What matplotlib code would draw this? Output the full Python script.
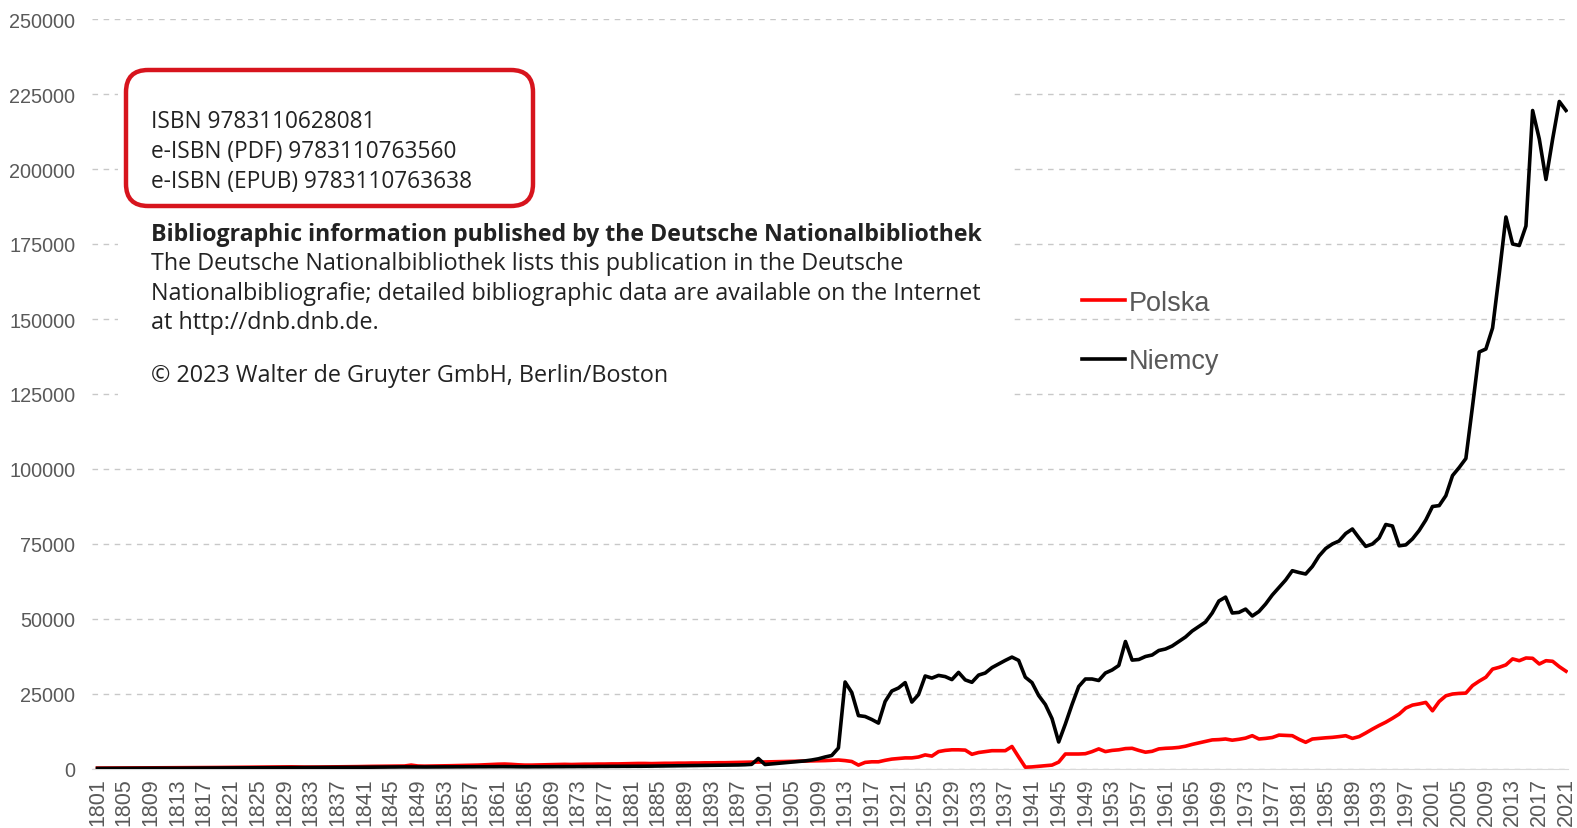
import numpy as np
import matplotlib
matplotlib.use("Agg")
import matplotlib.pyplot as plt
from matplotlib.patches import Rectangle, FancyBboxPatch

# lata 1801-2021
years = list(range(1801, 2022))

niemcy = [
    200, 210, 220, 230, 220, 240, 250, 260, 250, 270,              # 1801
    260, 280, 270, 290, 300, 310, 320, 330, 340, 350,              # 1811
    360, 370, 390, 400, 410, 420, 440, 450, 470, 480,              # 1821
    460, 470, 480, 490, 500, 510, 520, 540, 560, 580,              # 1831
    590, 610, 630, 650, 670, 690, 700, 680, 660, 670,              # 1841
    680, 690, 700, 710, 720, 730, 740, 750, 760, 770,              # 1851
    780, 790, 760, 740, 730, 740, 750, 760, 770, 780,              # 1861
    790, 800, 810, 820, 830, 840, 850, 860, 850, 860,              # 1871
    870, 900, 930, 960, 990, 1010, 1030, 1060, 1090, 1120,         # 1881
    1150, 1180, 1210, 1240, 1270, 1300, 1350, 1420, 1550, 3500,    # 1891
    1500, 1700, 1900, 2100, 2300, 2500, 2700, 3000, 3400, 4000,    # 1901
    4500, 7000, 29000, 25500, 17800, 17500, 16500, 15300, 22500, 26000,   # 1911
    27000, 28800, 22300, 24800, 31000, 30300, 31200, 30800, 29800, 32200,  # 1921
    29700, 28900, 31300, 32000, 33800, 35000, 36200, 37300, 36200, 30600,  # 1931
    28800, 24500, 21500, 16800, 9000, 15000, 21500, 27500, 30000, 30000,   # 1941
    29500, 32000, 33000, 34500, 42500, 36300, 36500, 37500, 38000, 39500,  # 1951
    40000, 41000, 42500, 44000, 46000, 47500, 49000, 52000, 56000, 57300,  # 1961
    52000, 52200, 53300, 51000, 52500, 55000, 58000, 60500, 63000, 66100,  # 1971
    65500, 65000, 67500, 71000, 73500, 75000, 76000, 78500, 80000, 77000,  # 1981
    74200, 75000, 77000, 81500, 81000, 74400, 74700, 76700, 79500, 83000,  # 1991
    87500, 87800, 91100, 97800, 100500, 103500, 121000, 139000, 140000, 147000,  # 2001
    165000, 184000, 175000, 174500, 181000, 219500, 210000, 196500, 210000, 222500,  # 2011
    219500,                                                         # 2021
]

polska = [
    300, 300, 320, 330, 340, 350, 360, 370, 380, 390,              # 1801
    400, 410, 420, 430, 440, 450, 470, 490, 510, 530,              # 1811
    550, 560, 580, 600, 620, 640, 660, 680, 700, 720,              # 1821
    680, 650, 640, 660, 680, 700, 720, 740, 760, 800,              # 1831
    850, 880, 900, 920, 950, 980, 1000, 1300, 1000, 950,           # 1841
    980, 1000, 1050, 1100, 1150, 1200, 1250, 1300, 1400, 1500,     # 1851
    1600, 1650, 1550, 1400, 1300, 1300, 1350, 1400, 1450, 1500,    # 1861
    1550, 1500, 1550, 1600, 1600, 1650, 1650, 1700, 1700, 1750,    # 1871
    1800, 1850, 1850, 1800, 1850, 1900, 1900, 1950, 1950, 2000,    # 1881
    2000, 2050, 2050, 2100, 2100, 2150, 2200, 2250, 2300, 2300,    # 1891
    2350, 2400, 2450, 2500, 2550, 2600, 2650, 2700, 2750, 2800,    # 1901
    2900, 3000, 2800, 2500, 1300, 2200, 2400, 2400, 2900, 3300,    # 1911
    3500, 3700, 3700, 4000, 4700, 4300, 5800, 6200, 6400, 6400,    # 1921
    6300, 4900, 5500, 5800, 6100, 6100, 6100, 7500, 4000, 600,     # 1931
    700, 900, 1100, 1300, 2300, 5000, 5000, 5000, 5100, 5800,      # 1941
    6700, 5800, 6200, 6400, 6800, 6900, 6200, 5600, 5900, 6700,    # 1951
    6900, 7000, 7200, 7600, 8200, 8700, 9200, 9700, 9800, 10000,   # 1961
    9600, 9900, 10300, 11100, 10000, 10200, 10500, 11300, 11200, 11100,    # 1971
    9900, 8900, 10000, 10200, 10400, 10550, 10800, 11100, 10200, 10800,    # 1981
    12000, 13300, 14500, 15600, 16900, 18300, 20300, 21300, 21700, 22200,  # 1991
    19400, 22500, 24400, 25000, 25200, 25300, 27800, 29300, 30600, 33300,  # 2001
    33900, 34700, 36700, 36100, 37000, 36900, 35000, 36100, 35900, 34100,  # 2011
    32600,                                                          # 2021
]

yticks = list(range(0, 250001, 25000))
xticks = list(range(1801, 2022, 4))

isbn_lines = ["ISBN 9783110628081",
              "e-ISBN (PDF) 9783110763560",
              "e-ISBN (EPUB) 9783110763638"]
dnb_title = "Bibliographic information published by the Deutsche Nationalbibliothek"
dnb_lines = ["The Deutsche Nationalbibliothek lists this publication in the Deutsche",
             "Nationalbibliografie; detailed bibliographic data are available on the Internet",
             "at http://dnb.dnb.de."]
copyright_line = "\u00a9 2023 Walter de Gruyter GmbH, Berlin/Boston"

W, H = 1577, 829
fig = plt.figure(figsize=(W / 100, H / 100), dpi=100)
ax = fig.add_axes([92 / W, 1 - 770 / H, (1568 - 92) / W, (770 - 20) / H])

grey = "#595959"
ax.plot(years, polska, color="#ff0000", lw=2.6, label="Polska", zorder=3)
ax.plot(years, niemcy, color="black", lw=2.6, label="Niemcy", zorder=4)

ax.set_ylim(0, 250000)
ax.set_xlim(1800.18, 2021.3)
ax.set_yticks(yticks)
ax.set_yticklabels([str(v) for v in yticks], fontsize=14.3, color=grey,
                   family="Liberation Sans")
ax.set_xticks(xticks)
ax.set_xticklabels([str(v) for v in xticks], rotation=90, fontsize=15.5,
                   color=grey, family="Liberation Sans")
ax.tick_params(axis="y", length=0, pad=12)
ax.tick_params(axis="x", length=0, pad=6)
ax.grid(axis="y", color="#c8c8c8", ls=(0, (4, 4)), lw=1)
for s in ["top", "right", "left"]:
    ax.spines[s].set_visible(False)
ax.spines["bottom"].set_color("#d9d9d9")

leg = ax.legend(loc="upper left", bbox_to_anchor=(1068 / W, 1 - 277 / H),
                bbox_transform=fig.transFigure, frameon=False,
                prop={"family": "Liberation Sans", "size": 19.5},
                handlelength=1.6, handletextpad=0.15, labelspacing=1.2,
                borderpad=0)
for t in leg.get_texts():
    t.set_color(grey)

# wklejony fragment strony redakcyjnej
fig.add_artist(Rectangle((118 / W, 1 - 405 / H), (1013 - 118) / W, (405 - 66) / H,
                         transform=fig.transFigure, facecolor="white",
                         edgecolor="none", zorder=5))
fig.add_artist(FancyBboxPatch((126 / W, 1 - 207 / H), (533 - 126) / W, (207 - 71) / H,
                              boxstyle="round,pad=0.0,rounding_size=0.014",
                              transform=fig.transFigure, facecolor="none",
                              edgecolor="#d7141d", lw=3.2, zorder=6,
                              mutation_aspect=W / H))

txt = dict(family="Open Sans", color="#222222", va="center",
           ha="left", zorder=7)
for i, line in enumerate(isbn_lines):
    fig.text(151 / W, 1 - (122 + 30 * i) / H, line, fontsize=16.3, **txt)
fig.text(151 / W, 1 - 235 / H, dnb_title, fontsize=16.7, fontweight="bold", **txt)
for i, line in enumerate(dnb_lines):
    fig.text(151 / W, 1 - (264 + 29.5 * i) / H, line, fontsize=16.8, **txt)
fig.text(151 / W, 1 - 376 / H, copyright_line, fontsize=16.8, **txt)

fig.savefig("out.png", dpi=100, facecolor="white")
